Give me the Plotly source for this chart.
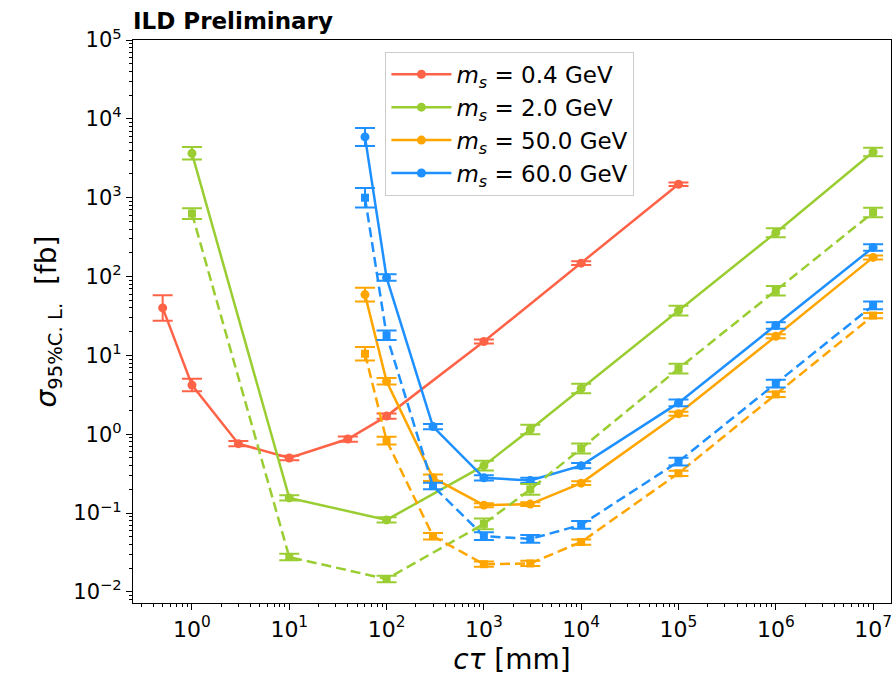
import plotly.graph_objects as go

# ---------------- data ----------------
ct_red = [0.5, 1, 3, 10, 40, 100, 1000, 1e4, 1e5]
sig_red = [40, 4.2, 0.76, 0.50, 0.87, 1.7, 15, 148, 1480]
err_red = [0.45, 0.2, 0.08, 0.07, 0.08, 0.08, 0.06, 0.06, 0.05]

ct_green = [1, 10, 100, 1000, 3000, 1e4, 1e5, 1e6, 1e7]
sig_green = [3650, 0.156, 0.082, 0.40, 1.15, 3.8, 37, 360, 3800]
err_green = [0.2, 0.08, 0.08, 0.15, 0.15, 0.15, 0.15, 0.14, 0.13]
sig_green_d = [630, 0.0277, 0.0146, 0.073, 0.20, 0.66, 6.8, 66, 650]
err_green_d = [0.17, 0.1, 0.1, 0.17, 0.17, 0.16, 0.15, 0.15, 0.15]

ct_heavy = [60, 100, 300, 1000, 3000, 1e4, 1e5, 1e6, 1e7]
sig_orange = [59, 4.7, 0.28, 0.126, 0.13, 0.24, 1.82, 17.5, 175]
err_orange = [0.22, 0.1, 0.1, 0.06, 0.06, 0.06, 0.06, 0.06, 0.06]
sig_orange_d = [10.5, 0.83, 0.051, 0.0225, 0.023, 0.043, 0.32, 3.2, 32]
err_orange_d = [0.22, 0.12, 0.1, 0.08, 0.08, 0.08, 0.08, 0.08, 0.08]
sig_blue = [5900, 97, 1.25, 0.28, 0.26, 0.40, 2.5, 24, 234]
err_blue = [0.3, 0.1, 0.08, 0.08, 0.08, 0.08, 0.1, 0.1, 0.1]
sig_blue_d = [1000, 18, 0.22, 0.051, 0.047, 0.071, 0.45, 4.4, 43]
err_blue_d = [0.33, 0.15, 0.1, 0.12, 0.12, 0.12, 0.12, 0.12, 0.12]

labels = ["0.4", "2.0", "50.0", "60.0"]
colors = ["#FF6347", "#9ACD32", "#FFA500", "#1E90FF"]

xtick_exp = list(range(0, 8))
ytick_exp = list(range(-2, 6))

FONT = "DejaVu Sans"


def sup(n):
    s = str(n).replace("-", "\u2212")
    return f"10<sup>{s}</sup>"


fig = go.Figure()


def add(x, y, rel, color, dash, symbol, name, show):
    fig.add_trace(go.Scatter(
        x=x, y=y, mode="lines+markers",
        name=name, showlegend=show,
        line=dict(color=color, width=2.5, dash=dash),
        marker=dict(color=color, size=9 if symbol == "circle" else 8, symbol=symbol),
        error_y=dict(type="data", array=[v * r for v, r in zip(y, rel)],
                     arrayminus=[v * r / (1 + r) for v, r in zip(y, rel)],
                     color=color, thickness=2, width=10, symmetric=False),
    ))


def lab(m):
    return f"<i>m<sub>s</sub></i> = {m} GeV"


add(ct_red, sig_red, err_red, colors[0], "solid", "circle", lab(labels[0]), True)
add(ct_green, sig_green, err_green, colors[1], "solid", "circle", lab(labels[1]), True)
add(ct_heavy, sig_orange, err_orange, colors[2], "solid", "circle", lab(labels[2]), True)
add(ct_heavy, sig_blue, err_blue, colors[3], "solid", "circle", lab(labels[3]), True)
add(ct_green, sig_green_d, err_green_d, colors[1], "10px,5px", "square", lab(labels[1]), False)
add(ct_heavy, sig_orange_d, err_orange_d, colors[2], "10px,5px", "square", lab(labels[2]), False)
add(ct_heavy, sig_blue_d, err_blue_d, colors[3], "10px,5px", "square", lab(labels[3]), False)

fig.update_layout(
    width=894, height=686,
    margin=dict(l=133, r=3, t=40, b=83),
    paper_bgcolor="white", plot_bgcolor="white",
    font=dict(family=FONT, color="black", size=19),
    legend=dict(x=0.333, y=0.979, xanchor="left", yanchor="top",
                bordercolor="#cccccc", borderwidth=1, bgcolor="rgba(255,255,255,0.8)",
                font=dict(size=23, family=FONT), itemwidth=60),
    annotations=[dict(text="<b>ILD Preliminary</b>", xref="paper", yref="paper",
                      x=0, y=1.0, xanchor="left", yanchor="bottom", showarrow=False,
                      font=dict(size=23, family=FONT), yshift=4, xshift=-2)],
)

fig.update_xaxes(
    type="log", range=[-0.606, 7.184],
    tickvals=[10 ** e for e in xtick_exp], ticktext=[sup(e) for e in xtick_exp],
    ticks="outside", ticklen=6, tickwidth=1, tickcolor="black",
    minor=dict(ticks="outside", ticklen=3, tickcolor="black", dtick="D1", showgrid=False),
    showline=True, linecolor="black", linewidth=1.2, mirror=True, showgrid=False, zeroline=False,
    tickfont=dict(size=22),
    title=dict(text="<i>cτ</i> [mm]", font=dict(size=28), standoff=8),
)
fig.update_yaxes(
    type="log", range=[-2.14, 5.0],
    tickvals=[10 ** e for e in ytick_exp], ticktext=[sup(e) for e in ytick_exp],
    ticks="outside", ticklen=6, tickwidth=1, tickcolor="black",
    minor=dict(ticks="outside", ticklen=3, tickcolor="black", dtick="D1", showgrid=False),
    showline=True, linecolor="black", linewidth=1.2, mirror=True, showgrid=False, zeroline=False,
    tickfont=dict(size=21),
    title=dict(text="<i>σ</i><sub>95%C. L.</sub>  [fb]", font=dict(size=28), standoff=8),
)

fig.write_html("out.html")
